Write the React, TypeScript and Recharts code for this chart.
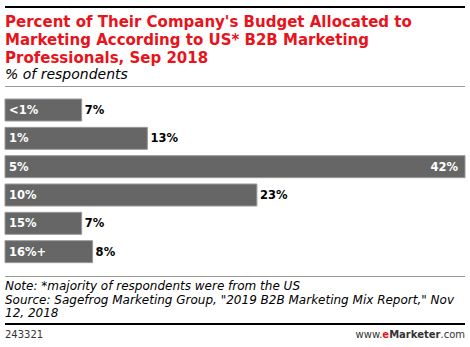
import { BarChart, Bar, XAxis, YAxis, LabelList } from 'recharts'

const categories = ['<1%', '1%', '5%', '10%', '15%', '16%+']
const respondents = [7, 13, 42, 23, 7, 8]
const xMax = 42

const data = categories.map((name, i) => ({ name, value: respondents[i] }))

const FONT = '"DejaVu Sans", Verdana, sans-serif'

function CategoryLabel(props: any) {
  const { x, y, height, value } = props
  return (
    <text x={x + 4} y={y + height / 2} dy={4} fill="#fff" fontSize={11.5} fontWeight="bold" fontFamily={FONT}>
      {value}
    </text>
  )
}

function ValueLabel(props: any) {
  const { x, y, width, height, value } = props
  const inside = value === xMax
  return (
    <text
      x={inside ? x + width - 7 : x + width + 3}
      y={y + height / 2}
      dy={4}
      textAnchor={inside ? 'end' : 'start'}
      fill={inside ? '#fff' : '#000'}
      fontSize={11.5}
      fontWeight="bold"
      fontFamily={FONT}
    >
      {value}%
    </text>
  )
}

export default function App() {
  return (
    <div style={{ position: 'absolute', left: 0, top: 0, width: 470, height: 347, background: '#fff', fontFamily: FONT, overflow: 'hidden' }}>
      <div style={{ position: 'absolute', left: 5, top: 6, width: 460, height: 2, background: '#000' }} />
      <div style={{ position: 'absolute', left: 5, top: 12.8, width: 465, fontSize: 15, lineHeight: '18px', fontWeight: 'bold', color: '#e8131b', whiteSpace: 'nowrap' }}>
        Percent of Their Company's Budget Allocated to<br />
        Marketing According to US* B2B Marketing<br />
        Professionals, Sep 2018
      </div>
      <div style={{ position: 'absolute', left: 5, top: 65, fontSize: 14, lineHeight: '18px', fontStyle: 'italic', color: '#000' }}>
        % of respondents
      </div>
      <div style={{ position: 'absolute', left: 5, top: 86, width: 460, height: 1, background: '#999' }} />

      <div style={{ position: 'absolute', left: 0, top: 0 }}>
        <BarChart
          width={470}
          height={347}
          data={data}
          layout="vertical"
          margin={{ top: 96, right: 5, bottom: 81, left: 5 }}
          barCategoryGap={3}
        >
          <XAxis type="number" domain={[0, xMax]} hide />
          <YAxis type="category" dataKey="name" hide />
          <Bar dataKey="value" fill="#666" stroke="#999" strokeWidth={1} isAnimationActive={false}>
            <LabelList dataKey="name" content={<CategoryLabel />} />
            <LabelList dataKey="value" content={<ValueLabel />} />
          </Bar>
        </BarChart>
      </div>

      <div style={{ position: 'absolute', left: 5, top: 276, width: 460, height: 1, background: '#999' }} />
      <div style={{ position: 'absolute', left: 5, top: 280, width: 465, fontSize: 12, lineHeight: '13.5px', fontStyle: 'italic', color: '#000', whiteSpace: 'nowrap' }}>
        Note: *majority of respondents were from the US<br />
        Source: Sagefrog Marketing Group, "2019 B2B Marketing Mix Report," Nov<br />
        12, 2018
      </div>
      <div style={{ position: 'absolute', left: 5, top: 323, width: 460, height: 2, background: '#000' }} />
      <div style={{ position: 'absolute', left: 5, top: 328, fontSize: 10, lineHeight: '13px', color: '#333' }}>243321</div>
      <div style={{ position: 'absolute', right: 5, top: 328, fontSize: 10, lineHeight: '13px', color: '#333' }}>
        www.<span style={{ color: '#e8131b', fontWeight: 'bold' }}>e</span>
        <span style={{ fontWeight: 'bold' }}>Marketer</span>.com
      </div>
    </div>
  )
}
